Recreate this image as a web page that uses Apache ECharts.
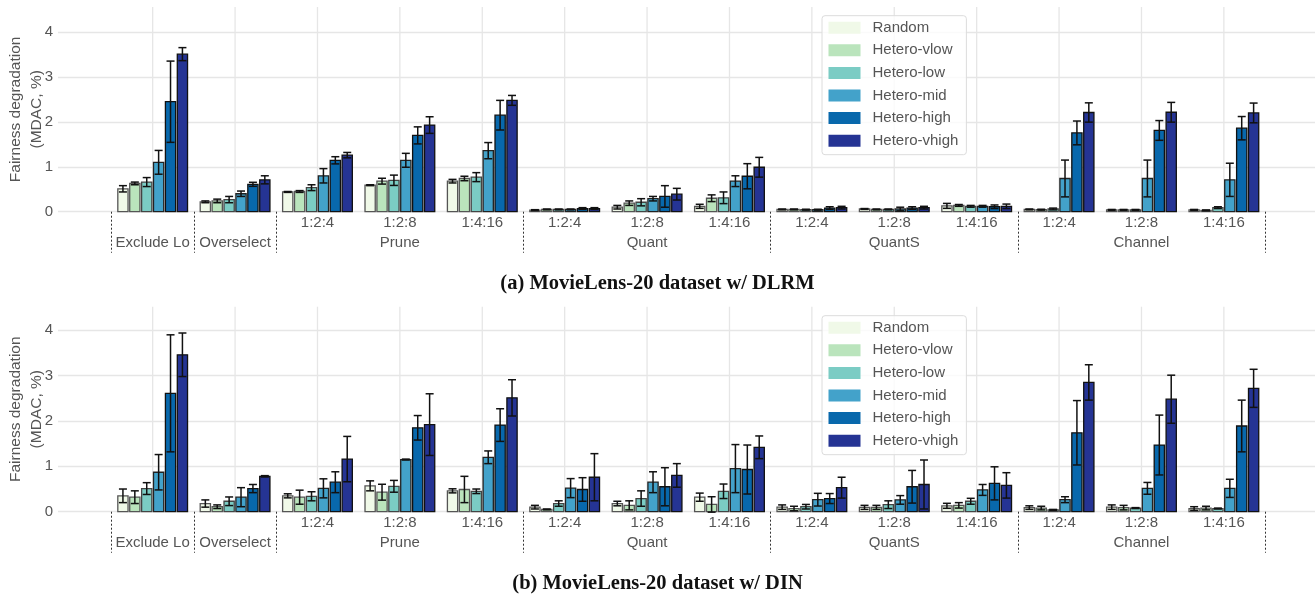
<!DOCTYPE html>
<html>
<head>
    <meta charset="utf-8">
    <title>Fairness degradation</title>
    <script src="https://cdn.jsdelivr.net/npm/echarts@6/dist/echarts.min.js"></script>
</head>
<body style="margin:0;">
<div id="main" style="width:1315px;height:598px;"></div>

<script type="text/javascript">
    // category layout
    var subLabels = ['', '', '1:2:4', '1:2:8', '1:4:16', '1:2:4', '1:2:8', '1:4:16',
        '1:2:4', '1:2:8', '1:4:16', '1:2:4', '1:2:8', '1:4:16'];
    var groupLabels = ['Exclude Lo', 'Overselect', '', 'Prune', '', '', 'Quant', '',
        '', 'QuantS', '', '', 'Channel', ''];
    var separators = [-0.5, 0.5, 1.5, 4.5, 7.5, 10.5, 13.5];

    var levels = ['Random', 'Hetero-vlow', 'Hetero-low', 'Hetero-mid', 'Hetero-high', 'Hetero-vhigh'];
    var colors = ['#f0f9e8', '#bae4bc', '#7bccc4', '#43a2ca', '#0868ac', '#253494'];
    var edges = ['#555', '#555', '#444', '#222', '#111', '#111'];

    // (a) MovieLens-20 w/ DLRM : mean and error
    var dlrmRandom = [0.51, 0.22, 0.44, 0.59, 0.68, 0.035, 0.10, 0.12, 0.05, 0.06, 0.13, 0.05, 0.04, 0.04];
    var dlrmRandomErr = [0.07, 0.02, 0.01, 0.01, 0.04, 0.01, 0.04, 0.045, 0.01, 0.01, 0.055, 0.01, 0.01, 0.01];
    var dlrmVlow = [0.63, 0.24, 0.45, 0.68, 0.74, 0.05, 0.19, 0.30, 0.05, 0.05, 0.14, 0.045, 0.04, 0.03];
    var dlrmVlowErr = [0.03, 0.04, 0.02, 0.065, 0.05, 0.01, 0.05, 0.075, 0.01, 0.01, 0.02, 0.01, 0.01, 0.01];
    var dlrmLow = [0.66, 0.27, 0.535, 0.70, 0.77, 0.05, 0.21, 0.31, 0.045, 0.05, 0.12, 0.06, 0.04, 0.09];
    var dlrmLowErr = [0.10, 0.07, 0.065, 0.115, 0.10, 0.01, 0.08, 0.13, 0.01, 0.01, 0.02, 0.02, 0.01, 0.02];
    var dlrmMid = [1.10, 0.40, 0.80, 1.145, 1.36, 0.05, 0.29, 0.68, 0.045, 0.06, 0.12, 0.74, 0.74, 0.71];
    var dlrmMidErr = [0.265, 0.06, 0.16, 0.155, 0.18, 0.01, 0.05, 0.12, 0.01, 0.04, 0.02, 0.41, 0.41, 0.37];
    var dlrmHigh = [2.45, 0.61, 1.145, 1.70, 2.15, 0.07, 0.34, 0.79, 0.08, 0.08, 0.11, 1.755, 1.81, 1.86];
    var dlrmHighErr = [0.905, 0.045, 0.08, 0.19, 0.33, 0.02, 0.24, 0.28, 0.03, 0.03, 0.04, 0.265, 0.22, 0.26];
    var dlrmVhigh = [3.51, 0.71, 1.26, 1.93, 2.48, 0.07, 0.39, 0.99, 0.09, 0.09, 0.12, 2.21, 2.215, 2.20];
    var dlrmVhighErr = [0.145, 0.09, 0.06, 0.185, 0.11, 0.02, 0.13, 0.22, 0.03, 0.03, 0.05, 0.215, 0.22, 0.22];

    // (b) MovieLens-20 w/ DIN : mean and error
    var dinRandom = [0.35, 0.18, 0.35, 0.57, 0.46, 0.10, 0.18, 0.32, 0.10, 0.095, 0.13, 0.09, 0.10, 0.07];
    var dinRandomErr = [0.15, 0.08, 0.045, 0.11, 0.045, 0.04, 0.05, 0.09, 0.05, 0.045, 0.055, 0.04, 0.05, 0.04];
    var dinVlow = [0.32, 0.11, 0.32, 0.43, 0.49, 0.05, 0.14, 0.16, 0.07, 0.095, 0.14, 0.08, 0.09, 0.08];
    var dinVlowErr = [0.14, 0.04, 0.155, 0.175, 0.29, 0.01, 0.10, 0.17, 0.05, 0.045, 0.06, 0.04, 0.05, 0.04];
    var dinLow = [0.51, 0.23, 0.34, 0.56, 0.45, 0.18, 0.29, 0.45, 0.11, 0.155, 0.23, 0.04, 0.08, 0.07];
    var dinLowErr = [0.13, 0.095, 0.10, 0.13, 0.05, 0.06, 0.17, 0.16, 0.05, 0.085, 0.065, 0.01, 0.01, 0.01];
    var dinMid = [0.87, 0.32, 0.515, 1.15, 1.20, 0.52, 0.65, 0.95, 0.265, 0.26, 0.48, 0.265, 0.515, 0.515];
    var dinMidErr = [0.39, 0.21, 0.21, 0.01, 0.14, 0.21, 0.23, 0.53, 0.14, 0.095, 0.12, 0.065, 0.13, 0.20];
    var dinHigh = [2.61, 0.51, 0.65, 1.85, 1.91, 0.49, 0.55, 0.93, 0.29, 0.55, 0.625, 1.74, 1.47, 1.89];
    var dinHighErr = [1.29, 0.09, 0.23, 0.27, 0.36, 0.26, 0.42, 0.54, 0.11, 0.36, 0.365, 0.71, 0.66, 0.57];
    var dinVhigh = [3.46, 0.78, 1.16, 1.92, 2.51, 0.76, 0.80, 1.42, 0.53, 0.60, 0.58, 2.85, 2.48, 2.72];
    var dinVhighErr = [0.48, 0.015, 0.50, 0.68, 0.40, 0.52, 0.26, 0.25, 0.23, 0.54, 0.28, 0.39, 0.53, 0.42];

    var panels = [
        {
            means: [dlrmRandom, dlrmVlow, dlrmLow, dlrmMid, dlrmHigh, dlrmVhigh],
            errs: [dlrmRandomErr, dlrmVlowErr, dlrmLowErr, dlrmMidErr, dlrmHighErr, dlrmVhighErr]
        },
        {
            means: [dinRandom, dinVlow, dinLow, dinMid, dinHigh, dinVhigh],
            errs: [dinRandomErr, dinVlowErr, dinLowErr, dinMidErr, dinHighErr, dinVhighErr]
        }
    ];

    var FONT = '"Liberation Sans", Arial, sans-serif';
    var TEXT = '#555';
    var GRID_COLOR = '#e6e6e6';
    var positions = subLabels.map(function (s, i) { return i; });

    function barRenderer(k) {
        return function (params, api) {
            var i = api.value(0), v = api.value(1), e = api.value(2);
            var base = api.coord([i, 0]);
            var pitch = api.size([1, 0])[0] * 0.1444;
            var cx = base[0] + (k - 2.5) * pitch;
            var w = pitch * 0.86;
            var top = api.coord([i, v])[1];
            var eTop = api.coord([i, v + e])[1];
            var eBot = api.coord([i, v - e])[1];
            var cap = 4;
            return {
                type: 'group',
                children: [
                    {
                        type: 'rect',
                        shape: {x: cx - w / 2, y: top, width: w, height: base[1] - top},
                        style: {fill: colors[k], stroke: edges[k], lineWidth: 1.3}
                    },
                    {type: 'line', shape: {x1: cx, y1: eTop, x2: cx, y2: eBot},
                        style: {stroke: '#111', lineWidth: 1.5}},
                    {type: 'line', shape: {x1: cx - cap, y1: eTop, x2: cx + cap, y2: eTop},
                        style: {stroke: '#111', lineWidth: 1.5}},
                    {type: 'line', shape: {x1: cx - cap, y1: eBot, x2: cx + cap, y2: eBot},
                        style: {stroke: '#111', lineWidth: 1.5}}
                ]
            };
        };
    }

    function vGridRenderer(params, api) {
        var x = api.coord([api.value(0), 0])[0];
        var cs = params.coordSys;
        return {
            type: 'line',
            shape: {x1: x, y1: cs.y, x2: x, y2: cs.y + cs.height},
            style: {stroke: GRID_COLOR, lineWidth: 1.3}
        };
    }

    var grids = [
        {left: 58, right: 0, top: 7, height: 204.7, outerBoundsMode: 'none', containLabel: false},
        {left: 58, right: 0, top: 306.7, height: 205, outerBoundsMode: 'none', containLabel: false}
    ];
    var yMax = [4.56, 4.52];

    var xAxes = [], yAxes = [], series = [], legends = [];
    [0, 1].forEach(function (p) {
        xAxes.push({
            type: 'value', gridIndex: p, min: -1.149, max: 14.106,
            splitLine: {show: false},
            axisLine: {show: false},
            axisTick: {
                show: true, customValues: separators, length: 41,
                lineStyle: {color: '#333', type: [2, 2], width: 1}
            },
            axisLabel: {
                customValues: positions,
                formatter: function (v) {
                    var i = Math.round(v);
                    return subLabels[i] + '\n' + groupLabels[i];
                },
                fontSize: 15, color: TEXT, fontFamily: FONT, lineHeight: 20, margin: 1
            }
        });
        yAxes.push({
            type: 'value', gridIndex: p, min: 0, max: yMax[p], interval: 1,
            name: 'Fairness degradation\n(MDAC, %)',
            nameLocation: 'middle', nameGap: 11, nameRotate: 90, nameMoveOverlap: false,
            nameTextStyle: {fontSize: 15.5, lineHeight: 21, color: TEXT, fontFamily: FONT},
            axisLine: {show: false}, axisTick: {show: false},
            axisLabel: {fontSize: 15, color: TEXT, fontFamily: FONT, margin: 5, showMaxLabel: false},
            splitLine: {show: true, showMaxLine: false, lineStyle: {color: GRID_COLOR, width: 1.3}}
        });
        series.push({
            type: 'custom', xAxisIndex: p, yAxisIndex: p, silent: true, z: 1,
            data: positions.map(function (i) { return [i]; }),
            encode: {x: 0},
            renderItem: vGridRenderer
        });
        levels.forEach(function (name, k) {
            series.push({
                type: 'custom', name: name, xAxisIndex: p, yAxisIndex: p, z: 3,
                itemStyle: {color: colors[k]},
                encode: {x: 0, y: 1},
                data: positions.map(function (i) {
                    return [i, panels[p].means[k][i], panels[p].errs[k][i]];
                }),
                renderItem: barRenderer(k)
            });
        });
        legends.push({
            data: levels, orient: 'vertical', left: 822, top: p === 0 ? 15.7 : 315.7,
            icon: 'rect', itemWidth: 32, itemHeight: 12, itemGap: 6.6,
            padding: [4, 8, 6, 6.5],
            backgroundColor: 'rgba(255,255,255,0.8)',
            borderColor: '#dcdcdc', borderWidth: 1, borderRadius: 3,
            itemStyle: {borderWidth: 0},
            textStyle: {fontSize: 15, color: TEXT, fontFamily: FONT, lineHeight: 16, padding: [0, 0, 0, 7]}
        });
    });

    var option = {
        animation: false,
        backgroundColor: '#fff',
        grid: grids,
        xAxis: xAxes,
        yAxis: yAxes,
        legend: legends,
        series: series,
        graphic: [
            {
                type: 'text', left: 'center', top: 273,
                style: {text: '(a) MovieLens-20 dataset w/ DLRM', fill: '#111',
                    font: 'bold 20.5px "Liberation Serif", serif'}
            },
            {
                type: 'text', left: 'center', top: 573,
                style: {text: '(b) MovieLens-20 dataset w/ DIN', fill: '#111',
                    font: 'bold 20.5px "Liberation Serif", serif'}
            }
        ]
    };

    var myChart = echarts.init(document.getElementById('main'));
    myChart.setOption(option);
</script>
</body>
</html>
